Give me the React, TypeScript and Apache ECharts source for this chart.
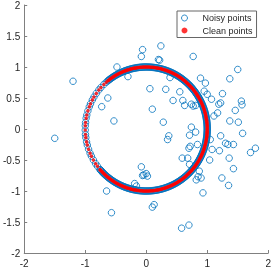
import React, { useEffect, useRef } from "react";
import * as echarts from "echarts";

// Angles (degrees) of the clean points on the unit circle.
// Dense arc (right side) and sparse arc (left side).
const denseAngles: number[] = [
  -139, -138, -137, -136, -135, -134, -133, -132, -131, -130, -129, -128, -127, -126, -125, -124,
  -123, -122, -121, -120, -119, -118, -117, -116, -115, -114, -113, -112, -111, -110, -109, -108,
  -107, -106, -105, -104, -103, -102, -101, -100, -99, -98, -97, -96, -95, -94, -93, -92, -91,
  -90, -89, -88, -87, -86, -85, -84, -83, -82, -81, -80, -79, -78, -77, -76, -75, -74, -73, -72,
  -71, -70, -69, -68, -67, -66, -65, -64, -63, -62, -61, -60, -59, -58, -57, -56, -55, -54, -53,
  -52, -51, -50, -49, -48, -47, -46, -45, -44, -43, -42, -41, -40, -39, -38, -37, -36, -35, -34,
  -33, -32, -31, -30, -29, -28, -27, -26, -25, -24, -23, -22, -21, -20, -19, -18, -17, -16, -15,
  -14, -13, -12, -11, -10, -9, -8, -7, -6, -5, -4, -3, -2, -1, 0, 1, 2, 3, 4, 5, 6, 7, 8, 9, 10,
  11, 12, 13, 14, 15, 16, 17, 18, 19, 20, 21, 22, 23, 24, 25, 26, 27, 28, 29, 30, 31, 32, 33, 34,
  35, 36, 37, 38, 39, 40, 41, 42, 43, 44, 45, 46, 47, 48, 49, 50, 51, 52, 53, 54, 55, 56, 57, 58,
  59, 60, 61, 62, 63, 64, 65, 66, 67, 68, 69, 70, 71, 72, 73, 74, 75, 76, 77, 78, 79, 80, 81, 82,
  83, 84, 85, 86, 87, 88, 89, 90, 91, 92, 93, 94, 95, 96, 97, 98, 99, 100, 101, 102, 103, 104,
  105, 106, 107, 108, 109, 110, 111, 112, 113, 114, 115, 116, 117, 118, 119, 120, 121, 122, 123,
  124, 125, 126, 127, 128, 129,
];
const sparseAngles: number[] = [
  131, 134, 138, 141, 145, 149, 152, 156, 159, 163, 167, 170, 174, 177, 181, 185, 188, 192,
  195, 199, 203, 206, 210, 214, 217, 221,
];

// Noisy points lying off the circle (outliers), [x, y]
const noisyOutliers: number[][] = [
  [-1.2, 0.77], [-1.5, -0.15], [-0.48, 1.0], [-0.3, 0.845], [-0.63, 0.5], [-0.73, 0.36],
  [-0.53, 0.13], [-0.65, -1.0], [-0.57, -1.35], [-0.19, -0.88], [-0.16, -0.92],
  [-0.06, 1.28], [-0.08, 1.17], [0.24, 1.34], [0.2, 1.12], [0.22, 1.11], [0.77, 1.17],
  [1.5, 0.96], [1.37, 0.81], [0.89, 0.82], [0.97, 0.74], [0.95, 0.61], [1.0, 0.56],
  [1.07, 0.48], [0.39, 0.83], [0.06, 0.65], [0.32, 0.64], [0.55, 0.6], [1.25, 0.57],
  [0.44, 0.46], [0.6, 0.46], [0.63, 0.38], [0.77, 0.37], [0.74, 0.4], [0.81, 0.38],
  [1.22, 0.42], [1.19, 0.4], [0.1, 0.32], [1.56, 0.45], [1.57, 0.39], [1.46, 0.3],
  [1.17, 0.26], [1.11, 0.21], [0.28, 0.11], [0.74, 0.03], [1.37, 0.13], [1.51, 0.11],
  [0.37, -0.11], [0.35, -0.17], [0.81, -0.05], [0.71, -0.1], [0.72, -0.28], [0.7, -0.31],
  [0.84, -0.25], [0.59, -0.47], [0.68, -0.47], [0.71, -0.57], [-0.08, -0.61], [1.58, -0.07],
  [1.22, -0.11], [1.3, -0.23], [1.34, -0.25], [1.43, -0.25], [1.2, -0.35], [1.71, -0.38],
  [1.79, -0.31], [1.36, -0.47], [1.04, -0.5], [1.43, -0.64], [1.08, -0.33], [1.05, -0.17],
  [-0.04, -0.74], [0.0, -0.72], [0.02, -0.76], [-0.06, -0.75], [0.1, -1.26], [0.13, -1.22],
  [0.58, -1.6], [0.7, -1.55], [0.87, -0.68], [0.85, -0.77], [0.82, -0.82], [0.9, -0.79],
  [0.93, -1.03], [1.24, -0.79], [1.35, -0.91],
];

const xTicks = { min: -2, max: 2, interval: 1 };
const yTicks = { min: -2, max: 2, interval: 0.5 };
const seriesNames = ["Noisy points", "Clean points"];

export default function App() {
  const ref = useRef<HTMLDivElement>(null);
  useEffect(() => {
    const chart = echarts.init(ref.current!, null, { renderer: "svg" });
    const toXY = (a: number) => [Math.cos((a * Math.PI) / 180), Math.sin((a * Math.PI) / 180)];
    const cleanData = [...denseAngles, ...sparseAngles].map(toXY);
    const noisyData = [...cleanData, ...noisyOutliers];
    const axisCommon = {
      type: "value",
      axisLine: { show: true, onZero: false, lineStyle: { color: "#808080", width: 1 } },
      axisTick: { show: true, inside: true, length: 3, lineStyle: { color: "#808080" } },
      splitLine: { show: false },
    };
    chart.setOption({
      animation: false,
      textStyle: { fontFamily: "'Liberation Sans', Arial, sans-serif" },
      grid: { left: 22, right: 3, top: 4, bottom: 16, containLabel: false },
      xAxis: {
        ...axisCommon,
        ...xTicks,
        axisLabel: { color: "#262626", fontSize: 10, margin: 5 },
      },
      yAxis: {
        ...axisCommon,
        ...yTicks,
        axisLabel: { color: "#262626", fontSize: 10, margin: 4 },
      },
      legend: {
        orient: "vertical",
        left: 177,
        top: 11,
        padding: [1, 4, 1, 4],
        itemGap: 0.5,
        itemWidth: 26,
        itemHeight: 6,
        borderColor: "#666",
        borderWidth: 1,
        borderRadius: 0,
        backgroundColor: "#fff",
        itemStyle: { borderWidth: 1 },
        textStyle: { fontSize: 9, color: "#262626", lineHeight: 12 },
        data: seriesNames,
      },
      series: [
        {
          name: seriesNames[0],
          type: "scatter",
          symbol: "circle",
          symbolSize: 6.5,
          itemStyle: { color: "rgba(0,0,0,0)", borderColor: "#0072BD", borderWidth: 1 },
          data: noisyData,
          z: 2,
        },
        {
          name: seriesNames[1],
          type: "scatter",
          symbol: "circle",
          symbolSize: 3.5,
          itemStyle: { color: "#FF0000" },
          data: cleanData,
          z: 3,
        },
      ],
    });
    return () => chart.dispose();
  }, []);
  return (
    <div
      ref={ref}
      style={{ position: "fixed", left: 0, top: 0, width: 274, height: 269 }}
    />
  );
}
